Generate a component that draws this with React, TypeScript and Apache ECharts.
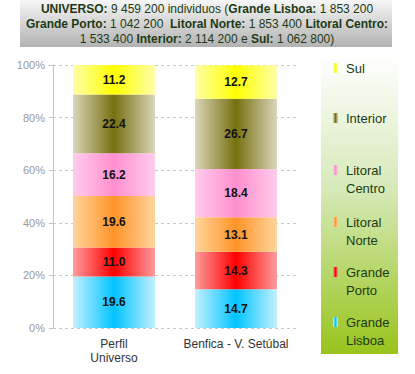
import React, { useEffect, useRef } from "react";
import * as echarts from "echarts";

const categories = ["Perfil\nUniverso", "Benfica - V. Setúbal"];
const seriesNames = ["Grande Lisboa", "Grande Porto", "Litoral Norte", "Litoral Centro", "Interior", "Sul"];
const grandeLisboa = [19.6, 14.7];
const grandePorto = [11.0, 14.3];
const litoralNorte = [19.6, 13.1];
const litoralCentro = [16.2, 18.4];
const interior = [22.4, 26.7];
const sul = [11.2, 12.7];
const seriesValues = [grandeLisboa, grandePorto, litoralNorte, litoralCentro, interior, sul];
const yTicks = [0, 20, 40, 60, 80, 100];
const titleLines = [
  "{b|UNIVERSO:} 9 459 200 individuos ({b|Grande Lisboa:} 1 853 200",
  "{b|Grande Porto:} 1 042 200  {b|Litoral Norte:} 1 853 400 {b|Litoral Centro:}",
  "1 533 400 {b|Interior:} 2 114 200 e {b|Sul:} 1 062 800)",
];

const lightColors = ["#c4f0ff", "#ff9c9c", "#ffd49c", "#ffcceb", "#dad6b8", "#ffffa8"];
const darkColors = ["#00c4ff", "#ff0000", "#ff9428", "#ff8fcf", "#767010", "#ffff00"];

const grad = (i: number) =>
  new echarts.graphic.LinearGradient(0, 0, 1, 0, [
    { offset: 0, color: lightColors[i] },
    { offset: 0.5, color: darkColors[i] },
    { offset: 1, color: lightColors[i] },
  ]);

export default function App() {
  const ref = useRef<HTMLDivElement>(null);
  useEffect(() => {
    if (!ref.current) return;
    const chart = echarts.init(ref.current, null, { renderer: "svg" });
    const font = "'Liberation Sans', Arial, sans-serif";
    const green = "#1c3a14";

    const legendTops = [68, 118, 170, 222, 272, 322];
    const legendGraphics: any[] = [];
    const order = [5, 4, 3, 2, 1, 0];
    order.forEach((si, k) => {
      const cy = legendTops[k];
      legendGraphics.push({
        type: "rect",
        shape: { x: 333, y: cy - 5, width: 5, height: 10 },
        style: { fill: grad(si) },
        z: 10,
      });
      legendGraphics.push({
        type: "text",
        x: 346,
        y: cy - 9,
        style: {
          text: seriesNames[si].replace(" ", "\n"),
          fill: green,
          font: `13px ${font}`,
          lineHeight: 18,
          verticalAlign: "top",
        },
        z: 10,
      });
    });

    chart.setOption({
      animation: false,
      textStyle: { fontFamily: font },
      graphic: [
        {
          type: "rect",
          shape: { x: 20, y: 0, width: 372, height: 47 },
          style: {
            fill: new echarts.graphic.LinearGradient(0, 0, 0, 1, [
              { offset: 0, color: "#f6f6f6" },
              { offset: 1, color: "#b2b2b2" },
            ]),
          },
          z: -10,
        },
        {
          type: "text",
          x: 207,
          y: 1,
          style: {
            text: titleLines.join("\n"),
            align: "center",
            verticalAlign: "top",
            fill: green,
            fontSize: 12,
            fontFamily: font,
            lineHeight: 15,
            rich: {
              b: { fontSize: 12, fontWeight: "bold", fill: green, lineHeight: 15, fontFamily: font },
            },
          },
          z: 5,
        },
        {
          type: "rect",
          shape: { x: 321, y: 56, width: 77, height: 298 },
          style: {
            fill: new echarts.graphic.LinearGradient(0, 0, 0, 1, [
              { offset: 0, color: "#ffffff" },
              { offset: 0.45, color: "#d6e9b8" },
              { offset: 1, color: "#98c41c" },
            ]),
          },
          z: -10,
        },
        ...legendGraphics,
      ],
      grid: { left: 53, right: 118, top: 65, bottom: 46, containLabel: false },
      xAxis: {
        type: "category",
        data: categories,
        axisLine: { show: false },
        axisTick: { show: false },
        axisLabel: { interval: 0, color: "#333", fontSize: 12, lineHeight: 14, margin: 9, fontFamily: font },
      },
      yAxis: {
        type: "value",
        min: yTicks[0],
        max: yTicks[yTicks.length - 1],
        interval: 20,
        axisLine: { show: true, lineStyle: { color: "#c4c4c4" } },
        axisTick: { show: true, length: 4, lineStyle: { color: "#c4c4c4" } },
        axisLabel: { formatter: "{value}%", color: "#999", fontSize: 11, margin: 8, fontFamily: font },
        splitLine: { show: true, lineStyle: { color: "#c8c8c8", type: [3, 3] } },
      },
      series: seriesValues.map((vals, i) => ({
        name: seriesNames[i],
        type: "bar",
        stack: "total",
        barWidth: 82,
        data: vals,
        itemStyle: { color: grad(i) },
        label: {
          show: true,
          position: "inside",
          formatter: (p: any) => Number(p.value).toFixed(1),
          color: "#111",
          fontSize: 12,
          fontWeight: "bold",
          fontFamily: font,
        },
      })),
    });
    return () => chart.dispose();
  }, []);
  return <div ref={ref} style={{ width: 415, height: 374, position: "absolute", left: 0, top: 0 }} />;
}
